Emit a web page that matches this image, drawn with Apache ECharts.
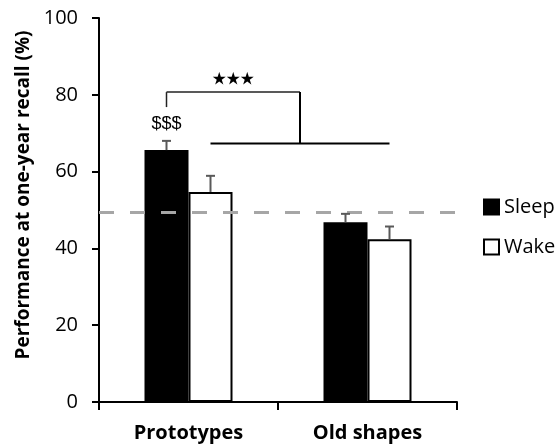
<!DOCTYPE html>
<html>
<head>
<meta charset="utf-8">
<script src="https://cdn.jsdelivr.net/npm/echarts@6/dist/echarts.min.js"></script>
<style>html,body{margin:0;padding:0;background:#fff;}#c{width:559px;height:445px;}</style>
</head>
<body>
<div id="c"></div>
<script>
// ---- data ----
const categories = ['Prototypes', 'Old shapes'];
const seriesNames = ['Sleep', 'Wake'];
const sleepValues = [65.6, 46.8];
const sleepErrors = [2.4, 2.2];
const wakeValues = [54.7, 42.4];
const wakeErrors = [4.2, 3.3];
const chanceLevel = 49.5;
const yTicks = [0, 20, 40, 60, 80, 100];
// annotation levels (in % units)
const bracketTop = 80.7;
const bracketLeftEnd = 76.8;
const bracketLower = 67.3;
const dollarLevel = 72.3;
const starLevel = 84.4;
const dollarText = '$$$';
const starText = '★★★';

const BAR_W = 44;
const FONT = '"Open Sans", sans-serif';

function errorSeries(name, values, errs, offset) {
  return {
    type: 'custom',
    name: name + ' err',
    z: 5,
    silent: true,
    data: values.map((v, i) => [i, v, errs[i]]),
    renderItem: function (params, api) {
      const i = api.value(0), v = api.value(1), e = api.value(2);
      const base = api.coord([i, v]);
      const top = api.coord([i, v + e]);
      const x = base[0] + offset;
      const style = { stroke: '#595959', lineWidth: 2 };
      return {
        type: 'group',
        children: [
          { type: 'line', shape: { x1: x, y1: base[1], x2: x, y2: top[1] }, style: style },
          { type: 'line', shape: { x1: x - 4.5, y1: top[1], x2: x + 4.5, y2: top[1] }, style: style }
        ]
      };
    }
  };
}

const chart = echarts.init(document.getElementById('c'));
chart.setOption({
  animation: false,
  grid: { left: 99, right: 102, top: 18, bottom: 43, containLabel: false },
  legend: {
    data: seriesNames,
    orient: 'vertical',
    left: 478,
    top: 192,
    itemWidth: 15,
    itemHeight: 15,
    itemGap: 20,
    icon: 'rect',
    textStyle: { fontFamily: FONT, fontSize: 20, color: '#000' },
    selectedMode: false
  },
  xAxis: {
    type: 'category',
    data: categories,
    axisLine: { lineStyle: { color: '#000', width: 2 } },
    axisTick: { show: true, length: 8, lineStyle: { color: '#000', width: 2 } },
    axisLabel: { fontFamily: FONT, fontSize: 20, fontWeight: 'bold', color: '#000', margin: 21 }
  },
  yAxis: {
    type: 'value',
    min: yTicks[0],
    max: yTicks[yTicks.length - 1],
    interval: yTicks[1] - yTicks[0],
    name: 'Performance at one-year recall (%)',
    nameLocation: 'middle',
    nameGap: 66,
    nameTextStyle: { fontFamily: FONT, fontSize: 19, fontWeight: 'bold', color: '#000', padding: [0, 0, 0, 30] },
    axisLine: { show: true, lineStyle: { color: '#000', width: 2 } },
    axisTick: { show: true, length: 7, lineStyle: { color: '#000', width: 2 } },
    axisLabel: { fontFamily: FONT, fontSize: 20, color: '#000', margin: 21 },
    splitLine: { show: false }
  },
  series: [
    {
      name: seriesNames[0],
      type: 'bar',
      data: sleepValues,
      barWidth: BAR_W,
      barGap: '0%',
      itemStyle: { color: '#000', borderColor: '#000', borderWidth: 1.5 },
      markLine: {
        silent: true,
        symbol: 'none',
        label: { show: false },
        lineStyle: { color: '#a6a6a6', width: 3, type: [15, 16] },
        data: [{ yAxis: chanceLevel }]
      }
    },
    {
      name: seriesNames[1],
      type: 'bar',
      data: wakeValues,
      barWidth: BAR_W,
      barGap: '0%',
      itemStyle: { color: '#fff', borderColor: '#000', borderWidth: 2 }
    },
    errorSeries('Sleep', sleepValues, sleepErrors, -BAR_W / 2),
    errorSeries('Wake', wakeValues, wakeErrors, BAR_W / 2),
    {
      type: 'custom',
      name: 'annot',
      silent: true,
      z: 6,
      data: [[0, 1]],
      renderItem: function (params, api) {
        const c0 = api.coord([0, bracketTop]);
        const c1 = api.coord([1, bracketTop]);
        const xSleepProto = c0[0] - BAR_W / 2;
        const xWakeProto = c0[0] + BAR_W / 2;
        const xWakeOld = c1[0] + BAR_W / 2;
        const xMid = (xWakeProto + xWakeOld) / 2;
        const yTop = c0[1];
        const yLeftEnd = api.coord([0, bracketLeftEnd])[1];
        const yLow = api.coord([0, bracketLower])[1];
        const yDollar = api.coord([0, dollarLevel])[1];
        const yStar = api.coord([0, starLevel])[1];
        const thin = { stroke: '#222', lineWidth: 1.5 };
        const thick = { stroke: '#000', lineWidth: 2 };
        return {
          type: 'group',
          children: [
            { type: 'line', shape: { x1: xSleepProto, y1: yLeftEnd, x2: xSleepProto, y2: yTop }, style: thin },
            { type: 'line', shape: { x1: xSleepProto, y1: yTop, x2: xMid, y2: yTop }, style: thin },
            { type: 'line', shape: { x1: xMid, y1: yTop, x2: xMid, y2: yLow }, style: thick },
            { type: 'line', shape: { x1: xWakeProto, y1: yLow, x2: xWakeOld, y2: yLow }, style: thick },
            { type: 'text', style: { text: dollarText, x: xSleepProto, y: yDollar, align: 'center', verticalAlign: 'middle', font: '18px "Liberation Sans", Arial, sans-serif', fill: '#000' } },
            { type: 'text', style: { text: starText, x: (xSleepProto + xMid) / 2, y: yStar, align: 'center', verticalAlign: 'middle', font: 'bold 14px "Noto Sans CJK SC", "DejaVu Sans", sans-serif', fill: '#000' } }
          ]
        };
      }
    }
  ]
});
</script>
</body>
</html>
